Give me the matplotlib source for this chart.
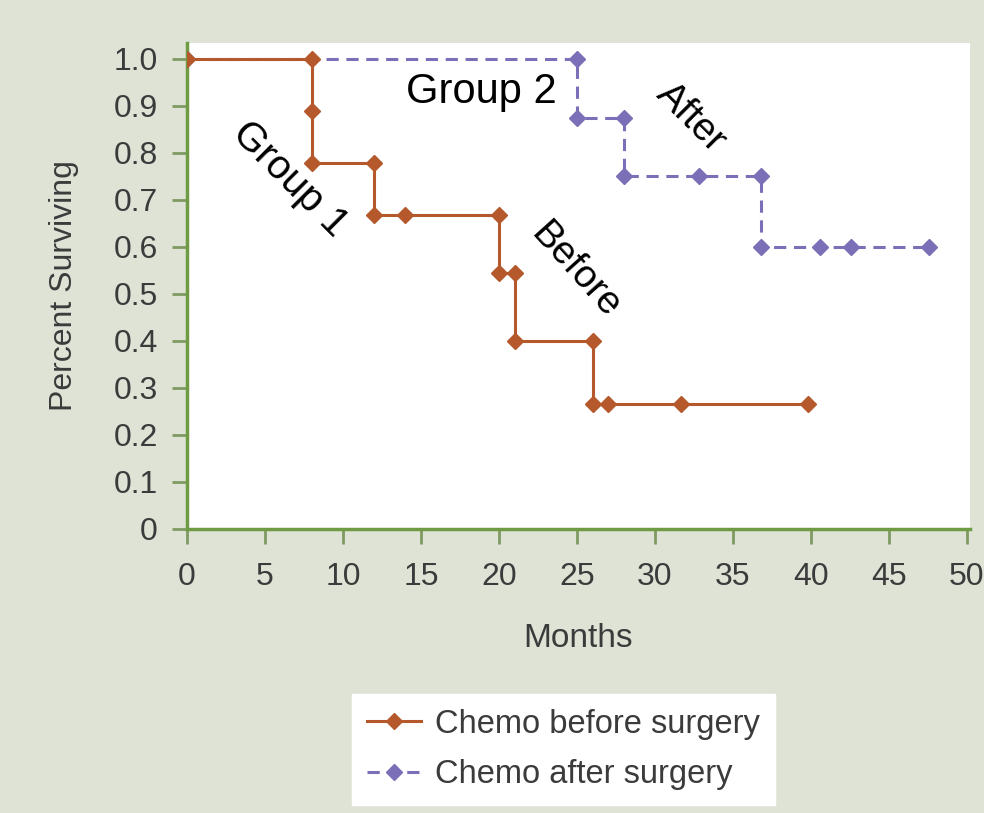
import numpy as np
import matplotlib.pyplot as plt

plt.rcParams['font.family'] = ['Liberation Sans', 'DejaVu Sans']

# Kaplan-Meier style survival steps (months, fraction surviving)
before_months = [0, 8, 8, 8, 12, 12, 14, 20, 20, 21, 21, 26, 26, 27, 31.7, 39.8]
before_surv = [1.0, 1.0, 0.889, 0.778, 0.778, 0.667, 0.667, 0.667, 0.545, 0.545,
               0.40, 0.40, 0.267, 0.267, 0.267, 0.267]

after_months = [0, 25, 25, 28, 28, 32.8, 36.8, 36.8, 40.6, 42.6, 47.6]
after_surv = [1.0, 1.0, 0.875, 0.875, 0.75, 0.75, 0.75, 0.60, 0.60, 0.60, 0.60]

x_ticks = [0, 5, 10, 15, 20, 25, 30, 35, 40, 45, 50]
y_ticks = [0, 0.1, 0.2, 0.3, 0.4, 0.5, 0.6, 0.7, 0.8, 0.9, 1.0]
y_tick_labels = ['0', '0.1', '0.2', '0.3', '0.4', '0.5', '0.6', '0.7', '0.8', '0.9', '1.0']

bg = '#dee3d6'
green = '#6f9b45'
red = '#b5582c'
purple = '#7b70b8'
text_col = '#3b3b3b'

fig = plt.figure(figsize=(9.84, 8.13), dpi=100, facecolor=bg)
ax = fig.add_axes([187 / 984, 1 - 529 / 813, 783 / 984, 486 / 813])
ax.set_facecolor('white')

ax.plot(after_months, after_surv, color=purple, lw=2.2, dashes=[4, 2.5],
        marker='D', markersize=8, markeredgecolor=purple,
        label='Chemo after surgery', zorder=3)
ax.plot(before_months, before_surv, color=red, lw=2.2,
        marker='D', markersize=8, markeredgecolor=red,
        label='Chemo before surgery', zorder=4)

ax.set_xlim(0, 50.2)
ax.set_ylim(0, 1.034)
ax.set_xticks(x_ticks)
ax.set_yticks(y_ticks)
ax.set_yticklabels(y_tick_labels)

for side in ['top', 'right']:
    ax.spines[side].set_visible(False)
for side in ['left', 'bottom']:
    ax.spines[side].set_color(green)
    ax.spines[side].set_linewidth(2.5)

ax.tick_params(axis='both', length=11, width=2, color='#7f9a63',
               labelsize=23, labelcolor=text_col)
ax.tick_params(axis='y', pad=10)
ax.tick_params(axis='x', pad=13)

ax.set_xlabel('Months', fontsize=24, color=text_col, labelpad=22)
ax.set_ylabel('Percent Surviving', fontsize=23, color=text_col, labelpad=25)

# group annotations
ax.text(18.9, 0.93, 'Group 2', fontsize=30, color='black', ha='center', va='center')
ax.text(6.6, 0.745, 'Group 1', fontsize=29, color='black', ha='center', va='center',
        rotation=-45, rotation_mode='anchor')
ax.text(24.9, 0.55, 'Before', fontsize=28, color='black', ha='center', va='center',
        rotation=-48, rotation_mode='anchor')
ax.text(32.3, 0.875, 'After', fontsize=28, color='black', ha='center', va='center',
        rotation=-45, rotation_mode='anchor')

handles, labels = ax.get_legend_handles_labels()
leg = fig.legend(handles[::-1], labels[::-1], loc='upper left',
                 bbox_to_anchor=(352 / 984, 1 - 694 / 813),
                 fontsize=23.5, frameon=True, fancybox=False, framealpha=1,
                 handlelength=1.65, handletextpad=0.45, borderpad=0.45,
                 labelspacing=0.6, borderaxespad=0)
leg.get_frame().set_facecolor('white')
leg.get_frame().set_edgecolor('white')
for t in leg.get_texts():
    t.set_color(text_col)

fig.savefig('out.png', dpi=100, facecolor=bg)
